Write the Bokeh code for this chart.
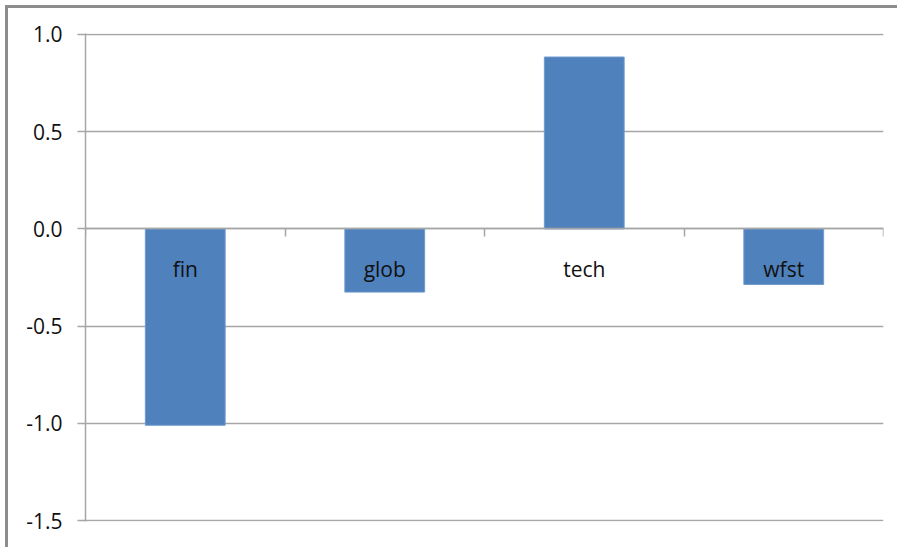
from bokeh.plotting import figure
from bokeh.models import ColumnDataSource, FixedTicker, PrintfTickFormatter, Range1d
from bokeh.core.properties import value
from bokeh.embed import file_html
from bokeh.resources import INLINE

# Data
categories = ["fin", "glob", "tech", "wfst"]
values = [-1.01, -0.325, 0.884, -0.286]
y_ticks = [-1.5, -1.0, -0.5, 0.0, 0.5, 1.0]

BLUE = "#4F81BD"
GRID = "#a6a6a6"
EDGE = "#8c8c8c"
FONT = "Open Sans"

centers = [i + 0.5 for i in range(len(categories))]
boundaries = list(range(len(categories) + 1))

src = ColumnDataSource(data=dict(x=centers, top=values, label=categories))

# A hair of padding on the value range keeps the 1.0 and -1.5 gridlines visible.
p = figure(width=897, height=547, output_backend="svg", toolbar_location=None,
           x_range=Range1d(0, len(categories)), y_range=Range1d(-1.505, 1.005),
           min_border_left=85, min_border_right=14, min_border_top=33,
           min_border_bottom=26)

# Chart-area edge (top and left) painted behind a transparent border fill
p.border_fill_color = None
p.background_fill_color = "white"
p.outline_line_color = None
p.styles = {
    "background": (f"linear-gradient({EDGE},{EDGE}) 5px 5px / 100% 3px no-repeat, "
                   f"linear-gradient({EDGE},{EDGE}) 5px 5px / 3px 100% no-repeat, "
                   "white"),
}

p.vbar(x="x", top="top", bottom=0, width=0.4, source=src,
       fill_color=BLUE, line_color="#6f9ad0", line_width=1)

# Category labels sit just under the zero line
p.text(x="x", y=0, text="label", source=src, text_align="center",
       text_baseline="alphabetic", y_offset=40, text_color="#111111",
       text_font=value(FONT), text_font_size="21px")

# Value axis
p.yaxis.ticker = FixedTicker(ticks=y_ticks)
p.yaxis.formatter = PrintfTickFormatter(format="%.1f")
p.yaxis.axis_line_color = GRID
p.yaxis.axis_line_width = 1.5
p.yaxis.major_tick_line_color = GRID
p.yaxis.major_tick_line_width = 1.5
p.yaxis.major_tick_out = 8
p.yaxis.major_tick_in = 0
p.yaxis.minor_tick_line_color = None
p.yaxis.major_label_standoff = 15
p.yaxis.major_label_text_font = FONT
p.yaxis.major_label_text_font_size = "21px"
p.yaxis.major_label_text_color = "#111111"

p.ygrid.ticker = FixedTicker(ticks=y_ticks)
p.ygrid.grid_line_color = GRID
p.ygrid.grid_line_width = 1.5
p.xgrid.grid_line_color = None

# Category axis pinned to zero: only the short boundary ticks are shown
p.xaxis.fixed_location = 0
p.xaxis.ticker = FixedTicker(ticks=boundaries)
p.xaxis.major_label_overrides = {b: "" for b in boundaries}
p.xaxis.major_label_standoff = 0
p.xaxis.axis_line_color = GRID
p.xaxis.axis_line_width = 1.5
p.xaxis.major_tick_line_color = GRID
p.xaxis.major_tick_line_width = 1.5
p.xaxis.major_tick_out = 8
p.xaxis.major_tick_in = 0
p.xaxis.minor_tick_line_color = None

open("out.html", "w").write(file_html(p, INLINE))
